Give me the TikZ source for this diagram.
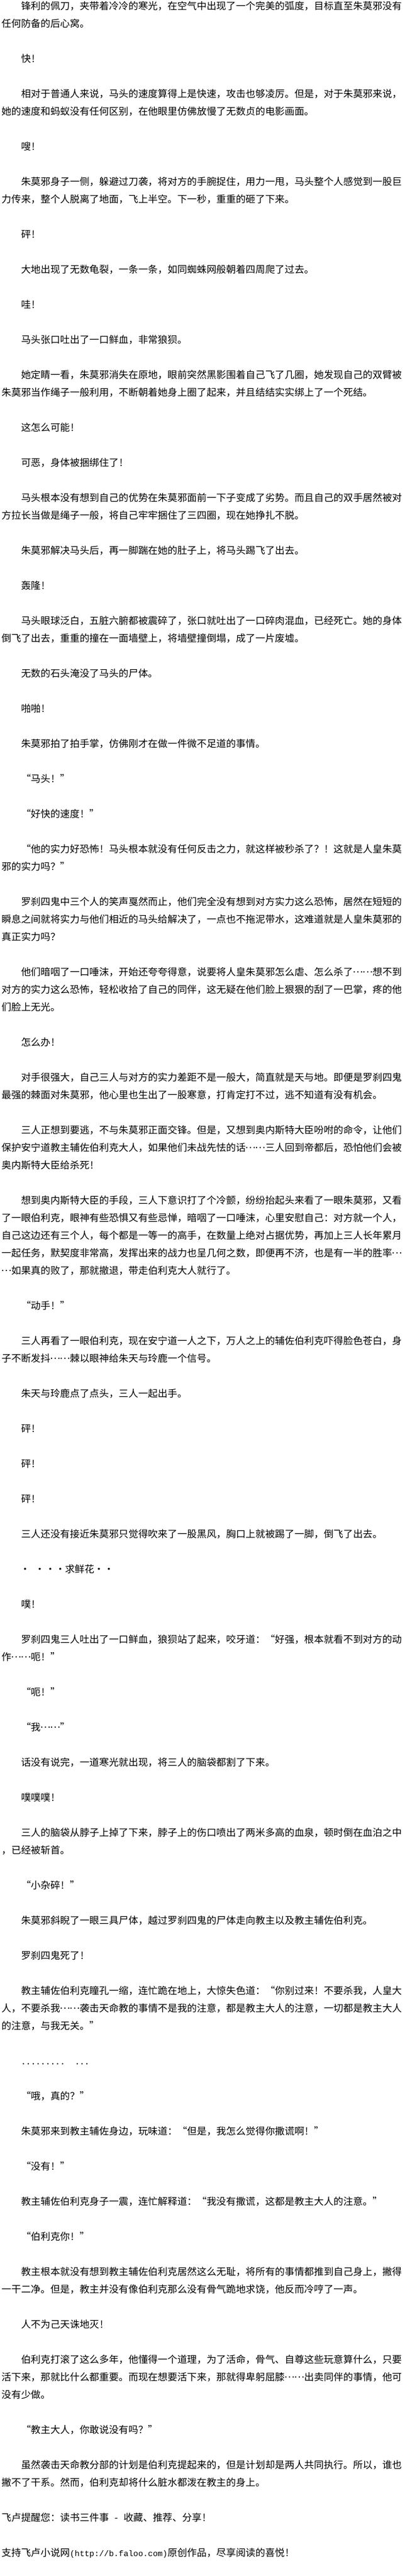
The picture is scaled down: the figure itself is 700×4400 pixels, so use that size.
\documentclass[tikz,border=0pt]{standalone}
\usepackage{fontspec}
\setmainfont{Noto Sans CJK SC}
\newfontfamily\halfmono{Liberation Mono}[Scale=0.8333]
\usetikzlibrary{calc,math}
\tikzset{
para/.style={anchor=north west,inner sep=0pt,align=left,font=\fontsize{16.67pt}{30pt}\selectfont}
}
\newcommand{\hc}[1]{\makebox[.5em][c]{#1}}
\newcommand{\oq}{\makebox[1em][r]{“}}
\newcommand{\cq}{\makebox[1em][l]{”}}
\newcommand{\ellip}{\makebox[1em]{\raisebox{.3em}{.\kern.1em.\kern.1em.}}}
\newcommand{\sixdot}{\ellip\ellip}
\newcommand{\md}{\makebox[0pt]{·}}
\newcommand{\indt}{\strut\hspace*{2em}}

\begin{document}
\begin{tikzpicture}[x=1pt,y=1pt]
			\tikzmath{\s = 30;} %line pitch
			
			\useasboundingbox (0,0) rectangle (700,-4400);
			\fill[white] (0,0) rectangle (700,-4400);
			\coordinate (top) at (2.5,4.7);
			
			%paragraphs 1-10
			\node[para] (p1) at (top) {\indt 锋利的佩刀，夹带着冷冷的寒光，在空气中出现了一个完美的弧度，目标直至朱莫邪没有\\
任何防备的后心窝。};
			\node[para] (p2) at ($(top)-(0,3*\s)$) {\indt 快\hc{!}};
			\node[para] (p3) at ($(top)-(0,5*\s)$) {\indt 相对于普通人来说，马头的速度算得上是快速，攻击也够凌厉。但是，对于朱莫邪来说，\\
她的速度和蚂蚁没有任何区别，在他眼里仿佛放慢了无数贞的电影画面。};
			\node[para] (p4) at ($(top)-(0,8*\s)$) {\indt 嗖\hc{!}};
			\node[para] (p5) at ($(top)-(0,10*\s)$) {\indt 朱莫邪身子一侧，躲避过刀袭，将对方的手腕捉住，用力一甩，马头整个人感觉到一股巨\\
力传来，整个人脱离了地面，飞上半空。下一秒，重重的砸了下来。};
			\node[para] (p6) at ($(top)-(0,13*\s)$) {\indt 砰\hc{!}};
			\node[para] (p7) at ($(top)-(0,15*\s)$) {\indt 大地出现了无数龟裂，一条一条，如同蜘蛛网般朝着四周爬了过去。};
			\node[para] (p8) at ($(top)-(0,17*\s)$) {\indt 哇\hc{!}};
			\node[para] (p9) at ($(top)-(0,19*\s)$) {\indt 马头张口吐出了一口鲜血，非常狼狈。};
			\node[para] (p10) at ($(top)-(0,21*\s)$) {\indt 她定睛一看，朱莫邪消失在原地，眼前突然黑影围着自己飞了几圈，她发现自己的双臂被\\
朱莫邪当作绳子一般利用，不断朝着她身上圈了起来，并且结结实实绑上了一个死结。};
			
			%paragraphs 11-20
			\node[para] (p11) at ($(top)-(0,24*\s)$) {\indt 这怎么可能\hc{!}};
			\node[para] (p12) at ($(top)-(0,26*\s)$) {\indt 可恶，身体被捆绑住了\hc{!}};
			\node[para] (p13) at ($(top)-(0,28*\s)$) {\indt 马头根本没有想到自己的优势在朱莫邪面前一下子变成了劣势。而且自己的双手居然被对\\
方拉长当做是绳子一般，将自己牢牢捆住了三四圈，现在她挣扎不脱。};
			\node[para] (p14) at ($(top)-(0,31*\s)$) {\indt 朱莫邪解决马头后，再一脚踹在她的肚子上，将马头踢飞了出去。};
			\node[para] (p15) at ($(top)-(0,33*\s)$) {\indt 轰隆\hc{!}};
			\node[para] (p16) at ($(top)-(0,35*\s)$) {\indt 马头眼球泛白，五脏六腑都被震碎了，张口就吐出了一口碎肉混血，已经死亡。她的身体\\
倒飞了出去，重重的撞在一面墙壁上，将墙壁撞倒塌，成了一片废墟。};
			\node[para] (p17) at ($(top)-(0,38*\s)$) {\indt 无数的石头淹没了马头的尸体。};
			\node[para] (p18) at ($(top)-(0,40*\s)$) {\indt 啪啪\hc{!}};
			\node[para] (p19) at ($(top)-(0,42*\s)$) {\indt 朱莫邪拍了拍手掌，仿佛刚才在做一件微不足道的事情。};
			\node[para] (p20) at ($(top)-(0,44*\s)$) {\indt\oq 马头\hc{!}\hc{}\cq};
			
			%paragraphs 21-30
			\node[para] (p21) at ($(top)-(0,46*\s)$) {\indt\oq 好快的速度\hc{!}\hc{}\cq};
			\node[para] (p22) at ($(top)-(0,48*\s)$) {\indt\oq 他的实力好恐怖\hc{!}\hc{}马头根本就没有任何反击之力，就这样被秒杀了？\hc{!}\hc{}这就是人皇朱莫\\
邪的实力吗？\cq};
			\node[para] (p23) at ($(top)-(0,51*\s)$) {\indt 罗刹四鬼中三个人的笑声戛然而止，他们完全没有想到对方实力这么恐怖，居然在短短的\\
瞬息之间就将实力与他们相近的马头给解决了，一点也不拖泥带水，这难道就是人皇朱莫邪的\\
真正实力吗？};
			\node[para] (p24) at ($(top)-(0,55*\s)$) {\indt 他们暗咽了一口唾沫，开始还夸夸得意，说要将人皇朱莫邪怎么虐、怎么杀了\sixdot 想不到\\
对方的实力这么恐怖，轻松收拾了自己的同伴，这无疑在他们脸上狠狠的刮了一巴掌，疼的他\\
们脸上无光。};
			\node[para] (p25) at ($(top)-(0,59*\s)$) {\indt 怎么办\hc{!}};
			\node[para] (p26) at ($(top)-(0,61*\s)$) {\indt 对手很强大，自己三人与对方的实力差距不是一般大，简直就是天与地。即便是罗刹四鬼\\
最强的棘面对朱莫邪，他心里也生出了一股寒意，打肯定打不过，逃不知道有没有机会。};
			\node[para] (p27) at ($(top)-(0,64*\s)$) {\indt 三人正想到要逃，不与朱莫邪正面交锋。但是，又想到奥内斯特大臣吩咐的命令，让他们\\
保护安宁道教主辅佐伯利克大人，如果他们未战先怯的话\sixdot 三人回到帝都后，恐怕他们会被\\
奥内斯特大臣给杀死\hc{!}};
			\node[para] (p28) at ($(top)-(0,68*\s)$) {\indt 想到奥内斯特大臣的手段，三人下意识打了个冷颤，纷纷抬起头来看了一眼朱莫邪，又看\\
了一眼伯利克，眼神有些恐惧又有些忌惮，暗咽了一口唾沫，心里安慰自己：对方就一个人，\\
自己这边还有三个人，每个都是一等一的高手，在数量上绝对占据优势，再加上三人长年累月\\
一起任务，默契度非常高，发挥出来的战力也呈几何之数，即便再不济，也是有一半的胜率\ellip\\
\ellip 如果真的败了，那就撤退，带走伯利克大人就行了。};
			\node[para] (p29) at ($(top)-(0,74*\s)$) {\indt\oq 动手\hc{!}\hc{}\cq};
			\node[para] (p30) at ($(top)-(0,76*\s)$) {\indt 三人再看了一眼伯利克，现在安宁道一人之下，万人之上的辅佐伯利克吓得脸色苍白，身\\
子不断发抖\sixdot 棘以眼神给朱天与玲鹿一个信号。};
			
			%paragraphs 31-40
			\node[para] (p31) at ($(top)-(0,79*\s)$) {\indt 朱天与玲鹿点了点头，三人一起出手。};
			\node[para] (p32) at ($(top)-(0,81*\s)$) {\indt 砰\hc{!}};
			\node[para] (p33) at ($(top)-(0,83*\s)$) {\indt 砰\hc{!}};
			\node[para] (p34) at ($(top)-(0,85*\s)$) {\indt 砰\hc{!}};
			\node[para] (p35) at ($(top)-(0,87*\s)$) {\indt 三人还没有接近朱莫邪只觉得吹来了一股黑风，胸口上就被踢了一脚，倒飞了出去。};
			\node[para] (p36) at ($(top)-(0,89*\s)$) {\indt\hspace*{7pt}\md\hspace{25pt}\md\hspace{18pt}\md\hspace{17pt}\md\hspace{8pt}求鲜花\hspace{8pt}\md\hspace{17pt}\md};
			\node[para] (p37) at ($(top)-(0,91*\s)$) {\indt 噗\hc{!}};
			\node[para] (p38) at ($(top)-(0,93*\s)$) {\indt 罗刹四鬼三人吐出了一口鲜血，狼狈站了起来，咬牙道：\oq 好强，根本就看不到对方的动\\
作\sixdot 呃\hc{!}\hc{}\cq};
			\node[para] (p39) at ($(top)-(0,96*\s)$) {\indt\oq 呃\hc{!}\hc{}\cq};
			\node[para] (p40) at ($(top)-(0,98*\s)$) {\indt\oq 我\sixdot\cq};
			
			%paragraphs 41-50
			\node[para] (p41) at ($(top)-(0,100*\s)$) {\indt 话没有说完，一道寒光就出现，将三人的脑袋都割了下来。};
			\node[para] (p42) at ($(top)-(0,102*\s)$) {\indt 噗噗噗\hc{!}};
			\node[para] (p43) at ($(top)-(0,104*\s)$) {\indt 三人的脑袋从脖子上掉了下来，脖子上的伤口喷出了两米多高的血泉，顿时倒在血泊之中\\
，已经被斩首。};
			\node[para] (p44) at ($(top)-(0,107*\s)$) {\indt\oq 小杂碎\hc{!}\hc{}\cq};
			\node[para] (p45) at ($(top)-(0,109*\s)$) {\indt 朱莫邪斜睨了一眼三具尸体，越过罗刹四鬼的尸体走向教主以及教主辅佐伯利克。};
			\node[para] (p46) at ($(top)-(0,111*\s)$) {\indt 罗刹四鬼死了\hc{!}};
			\node[para] (p47) at ($(top)-(0,113*\s)$) {\indt 教主辅佐伯利克瞳孔一缩，连忙跪在地上，大惊失色道：\oq 你别过来\hc{!}\hc{}不要杀我，人皇大\\
人，不要杀我\sixdot 袭击天命教的事情不是我的注意，都是教主大人的注意，一切都是教主大人\\
的注意，与我无关。\cq};
			\node[para] (p48) at ($(top)-(0,117*\s)$) {\indt\hc{.}\hc{.}\hc{.}\hc{.}\hc{.}\hc{.}\hc{.}\hc{.}\hc{.}\hc{}\hc{}\hc{.}\hc{.}\hc{.}};
			\node[para] (p49) at ($(top)-(0,119*\s)$) {\indt\oq 哦，真的？\cq};
			\node[para] (p50) at ($(top)-(0,121*\s)$) {\indt 朱莫邪来到教主辅佐身边，玩味道：\oq 但是，我怎么觉得你撒谎啊\hc{!}\hc{}\cq};
			
			%paragraphs 51-58
			\node[para] (p51) at ($(top)-(0,123*\s)$) {\indt\oq 没有\hc{!}\hc{}\cq};
			\node[para] (p52) at ($(top)-(0,125*\s)$) {\indt 教主辅佐伯利克身子一震，连忙解释道：\oq 我没有撒谎，这都是教主大人的注意。\cq};
			\node[para] (p53) at ($(top)-(0,127*\s)$) {\indt\oq 伯利克你\hc{!}\hc{}\cq};
			\node[para] (p54) at ($(top)-(0,129*\s)$) {\indt 教主根本就没有想到教主辅佐伯利克居然这么无耻，将所有的事情都推到自己身上，撇得\\
一干二净。但是，教主并没有像伯利克那么没有骨气跪地求饶，他反而冷哼了一声。};
			\node[para] (p55) at ($(top)-(0,132*\s)$) {\indt 人不为己天诛地灭\hc{!}};
			\node[para] (p56) at ($(top)-(0,134*\s)$) {\indt 伯利克打滚了这么多年，他懂得一个道理，为了活命，骨气、自尊这些玩意算什么，只要\\
活下来，那就比什么都重要。而现在想要活下来，那就得卑躬屈膝\sixdot 出卖同伴的事情，他可\\
没有少做。};
			\node[para] (p57) at ($(top)-(0,138*\s)$) {\indt\oq 教主大人，你敢说没有吗？\cq};
			\node[para] (p58) at ($(top)-(0,140*\s)$) {\indt 虽然袭击天命教分部的计划是伯利克提起来的，但是计划却是两人共同执行。所以，谁也\\
撇不了干系。然而，伯利克却将什么脏水都泼在教主的身上。};
			
			%site notes
			\node[para] (p59) at ($(top)-(0,143*\s)$) {\strut 飞卢提醒您：读书三件事\hc{}\hc{-}\hc{}收藏、推荐、分享\hc{!}};
			\node[para] (p60) at ($(top)-(0,145*\s)$) {\strut 支持飞卢小说网{\halfmono (http://b.faloo.com)}原创作品，尽享阅读的喜悦\hc{!}};
			
\end{tikzpicture}
\end{document}
